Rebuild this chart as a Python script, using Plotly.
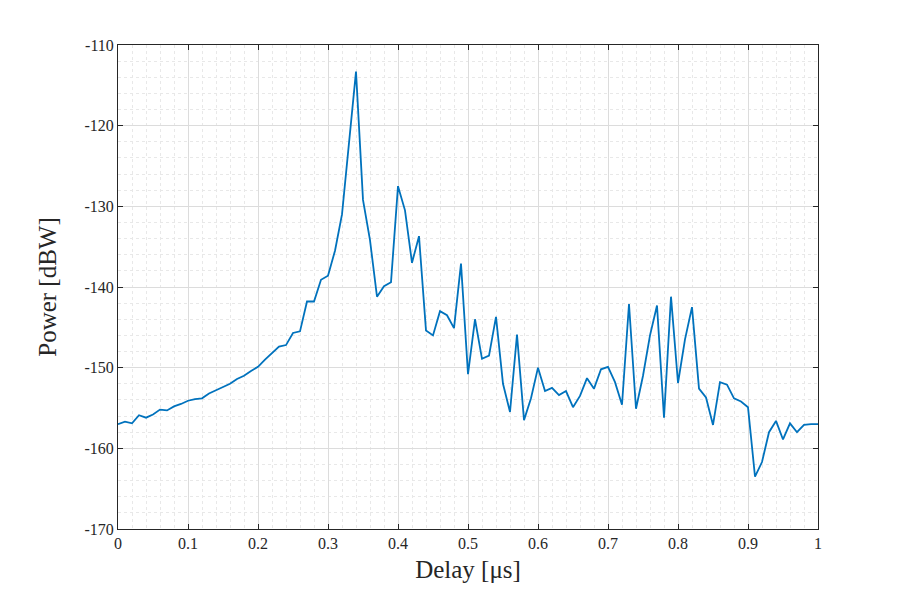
import plotly.graph_objects as go

delay_us = [i / 100 for i in range(101)]
power_dbw = [
    -157.0, -156.7, -156.9, -155.9, -156.2, -155.8, -155.2, -155.3, -154.8, -154.5,
    -154.1, -153.9, -153.8, -153.2, -152.8, -152.4, -152.0, -151.4, -151.0, -150.4,
    -149.9, -149.0, -148.2, -147.4, -147.2, -145.7, -145.5, -141.8, -141.8, -139.1,
    -138.6, -135.5, -131.0, -122.5, -113.3, -129.2, -134.2, -141.2, -139.9, -139.4,
    -127.5, -130.5, -137.0, -133.7, -145.4, -146.0, -143.0, -143.5, -145.1, -137.1,
    -150.8, -144.0, -148.9, -148.5, -143.7, -152.0, -155.5, -145.9, -156.5, -153.8,
    -150.0, -152.9, -152.5, -153.4, -152.9, -154.9, -153.5, -151.3, -152.6, -150.2,
    -149.9, -151.8, -154.6, -142.1, -155.1, -151.0, -146.0, -142.3, -156.2, -141.2,
    -151.9, -146.5, -142.5, -152.6, -153.7, -157.1, -151.8, -152.1, -153.8, -154.2,
    -154.9, -163.5, -161.7, -158.0, -156.6, -158.9, -156.9, -158.0, -157.1, -157.0,
    -157.0,
]
y_ticks = [-170, -160, -150, -140, -130, -120, -110]
y_tick_labels = [str(v) for v in y_ticks]  # plain hyphen, as in the reference

fig = go.Figure(go.Scatter(
    x=delay_us, y=power_dbw, mode='lines',
    line=dict(color='#0072BD', width=1.8),
))

axis_common = dict(
    showline=True, linecolor='#262626', linewidth=1, mirror='ticks',
    ticks='inside', ticklen=5, tickcolor='#262626',
    showgrid=True, gridcolor='#dcdcdc', gridwidth=1,
    minor=dict(showgrid=True, gridcolor='#e8e8e8', griddash='dot', ticks=''),
    zeroline=False, tickfont=dict(size=16, color='#262626'),
)

fig.update_xaxes(
    range=[0, 1], dtick=0.1, tickformat='~g',
    title=dict(text='Delay [μs]', font=dict(size=25, color='#262626'), standoff=9),
    **axis_common,
)
fig.update_xaxes(minor_dtick=0.02)
fig.update_yaxes(
    range=[-170, -110], tickvals=y_ticks, ticktext=y_tick_labels,
    title=dict(text='Power [dBW]', font=dict(size=25, color='#262626'), standoff=20),
    **axis_common,
)
fig.update_yaxes(minor_dtick=2)

fig.update_layout(
    width=905, height=596,
    margin=dict(l=110, r=95, t=37, b=75),
    paper_bgcolor='white', plot_bgcolor='white',
    font=dict(family='Liberation Serif', color='#262626'),
    showlegend=False,
)

fig.write_html('out.html')
